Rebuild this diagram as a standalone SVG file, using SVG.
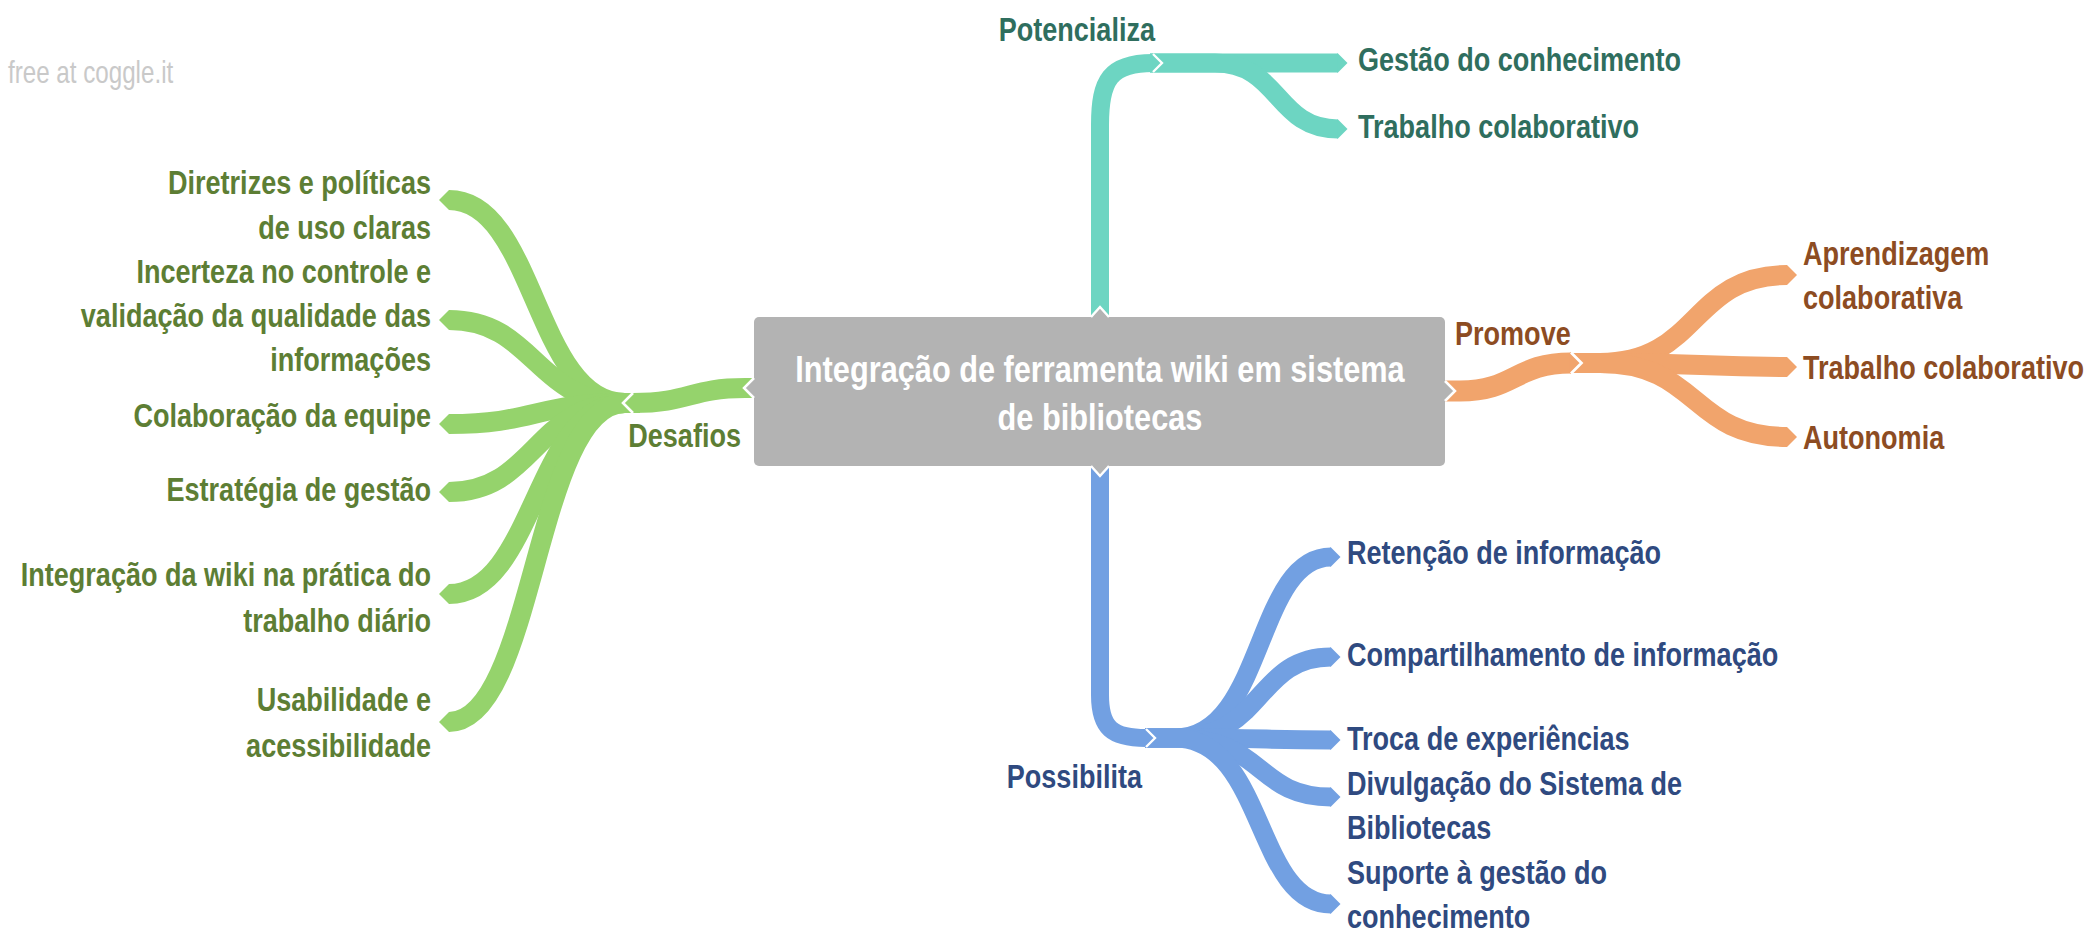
<svg xmlns="http://www.w3.org/2000/svg" width="2090" height="942" viewBox="0 0 2090 942">
<style>
.t{font-family:"Liberation Sans",Arial,sans-serif;font-weight:bold;font-size:33px}
.g{fill:#5d7e34}.te{fill:#2f6e5e}.o{fill:#8d4c22}.b{fill:#2f4a80}
.band{fill:none;stroke-linecap:butt;stroke-linejoin:round}
.bg{stroke:#95d36c}.bt{stroke:#6dd5c2}.bo{stroke:#f1a46c}.bb{stroke:#72a0e2}
.wm{font-family:"Liberation Sans",Arial,sans-serif;font-size:31px;fill:#c9c9c9}
</style>
<defs>
<marker id="mg" viewBox="-0.05 0 0.55 1" refX="0" refY="0.5" markerWidth="0.55" markerHeight="1" orient="auto" markerUnits="strokeWidth" overflow="visible"><path d="M-0.05,0 L0,0 L0.5,0.5 L0,1 L-0.05,1Z" fill="#95d36c"/></marker>
<marker id="mt" viewBox="-0.05 0 0.55 1" refX="0" refY="0.5" markerWidth="0.55" markerHeight="1" orient="auto" markerUnits="strokeWidth" overflow="visible"><path d="M-0.05,0 L0,0 L0.5,0.5 L0,1 L-0.05,1Z" fill="#6dd5c2"/></marker>
<marker id="mo" viewBox="-0.05 0 0.55 1" refX="0" refY="0.5" markerWidth="0.55" markerHeight="1" orient="auto" markerUnits="strokeWidth" overflow="visible"><path d="M-0.05,0 L0,0 L0.5,0.5 L0,1 L-0.05,1Z" fill="#f1a46c"/></marker>
<marker id="mb" viewBox="-0.05 0 0.55 1" refX="0" refY="0.5" markerWidth="0.55" markerHeight="1" orient="auto" markerUnits="strokeWidth" overflow="visible"><path d="M-0.05,0 L0,0 L0.5,0.5 L0,1 L-0.05,1Z" fill="#72a0e2"/></marker>
<marker id="jg" viewBox="-0.05 0 0.55 1" refX="0" refY="0.5" markerWidth="0.55" markerHeight="1" orient="auto" markerUnits="strokeWidth" overflow="visible"><path d="M-0.05,0 L0,0 L0.5,0.5 L0,1 L-0.05,1Z" fill="#95d36c"/><path d="M0,0 L0.5,0.5 L0,1" fill="none" stroke="#fff" stroke-width="0.13"/></marker>
<marker id="jt" viewBox="-0.05 0 0.55 1" refX="0" refY="0.5" markerWidth="0.55" markerHeight="1" orient="auto" markerUnits="strokeWidth" overflow="visible"><path d="M-0.05,0 L0,0 L0.5,0.5 L0,1 L-0.05,1Z" fill="#6dd5c2"/><path d="M0,0 L0.5,0.5 L0,1" fill="none" stroke="#fff" stroke-width="0.13"/></marker>
<marker id="jo" viewBox="-0.05 0 0.55 1" refX="0" refY="0.5" markerWidth="0.55" markerHeight="1" orient="auto" markerUnits="strokeWidth" overflow="visible"><path d="M-0.05,0 L0,0 L0.5,0.5 L0,1 L-0.05,1Z" fill="#f1a46c"/><path d="M0,0 L0.5,0.5 L0,1" fill="none" stroke="#fff" stroke-width="0.13"/></marker>
<marker id="jb" viewBox="-0.05 0 0.55 1" refX="0" refY="0.5" markerWidth="0.55" markerHeight="1" orient="auto" markerUnits="strokeWidth" overflow="visible"><path d="M-0.05,0 L0,0 L0.5,0.5 L0,1 L-0.05,1Z" fill="#72a0e2"/><path d="M0,0 L0.5,0.5 L0,1" fill="none" stroke="#fff" stroke-width="0.13"/></marker>
</defs>

<text class="wm" transform="translate(8,83) scale(0.78,1)">free at coggle.it</text>

<g id="connectors">
  <!-- green leaves -->
  <g class="band bg" stroke-width="20" marker-end="url(#mg)">
    <path d="M640,403 L625,403 C535,403 535,200 449,200"/>
    <path d="M640,403 L625,403 C535,403 535,320 449,320"/>
    <path d="M640,403 L625,403 C535,403 535,424 449,424"/>
    <path d="M640,403 L625,403 C535,403 535,492 449,492"/>
    <path d="M640,403 L625,403 C535,403 535,594 449,594"/>
    <path d="M640,403 L625,403 C535,403 535,722 449,722"/>
  </g>
  <!-- teal leaves -->
  <g class="band bt" stroke-width="19" marker-end="url(#mt)">
    <path d="M1150,63 L1338,63"/>
    <path d="M1150,63 L1215,63 C1280,63 1275,129 1338,129"/>
  </g>
  <!-- orange leaves -->
  <g class="band bo" stroke-width="20" marker-end="url(#mo)">
    <path d="M1570,363 L1600,363 C1700,363 1690,275 1787,275"/>
    <path d="M1570,363 L1600,363 C1700,363 1700,367 1787,367"/>
    <path d="M1570,363 L1600,363 C1700,363 1690,437 1787,437"/>
  </g>
  <!-- blue leaves -->
  <g class="band bb" stroke-width="19" marker-end="url(#mb)">
    <path d="M1145,738 L1175,738 C1265,738 1255,557 1331,557"/>
    <path d="M1145,738 L1175,738 C1265,738 1255,657 1331,657"/>
    <path d="M1145,738 L1175,738 C1265,738 1265,740 1331,740"/>
    <path d="M1145,738 L1175,738 C1265,738 1255,797 1331,797"/>
    <path d="M1145,738 L1175,738 C1265,738 1255,904 1331,904"/>
  </g>
  <!-- root to main branches -->
  <path class="band bg" stroke-width="20" marker-end="url(#jg)" d="M770,388 L745,388 C690,388 690,403 633,403"/>
  <path class="band bt" stroke-width="18" marker-end="url(#jt)" d="M1100,330 L1100,125 C1100,80 1110,63 1153,63"/>
  <path class="band bo" stroke-width="21" marker-end="url(#jo)" d="M1430,391 L1460,391 C1515,391 1515,363 1571,363"/>
  <path class="band bb" stroke-width="18" marker-end="url(#jb)" d="M1100,455 L1100,695 C1100,728 1112,738 1146,738"/>
</g>

<g id="root">
  <rect x="754" y="317" width="691" height="149" rx="5" fill="#b3b3b3"/>
  <polygon points="754,378 744,388 754,398" fill="#b3b3b3"/>
  <polyline points="754,378 744,388 754,398" fill="none" stroke="#fff" stroke-width="2.5"/>
  <polygon points="1445,381 1455,391 1445,401" fill="#b3b3b3"/>
  <polyline points="1445,381 1455,391 1445,401" fill="none" stroke="#fff" stroke-width="2.5"/>
  <polygon points="1091,317 1100,307 1109,317" fill="#b3b3b3"/>
  <polyline points="1091,317 1100,307 1109,317" fill="none" stroke="#fff" stroke-width="2.5"/>
  <polygon points="1091,466 1100,476 1109,466" fill="#b3b3b3"/>
  <polyline points="1091,466 1100,476 1109,466" fill="none" stroke="#fff" stroke-width="2.5"/>
  <text class="t" fill="#fff" text-anchor="middle" transform="translate(1100,382) scale(0.83,1)" style="font-size:37px"><tspan x="0" y="0">Integração de ferramenta wiki em sistema</tspan><tspan x="0" y="48">de bibliotecas</tspan></text>
</g>

<g id="desafios"><text class="t g" text-anchor="end" transform="translate(741,447) scale(0.82,1)">Desafios</text></g>
<g id="g1"><text class="t g" text-anchor="end" transform="translate(431,194) scale(0.82,1)"><tspan x="0" y="0">Diretrizes e políticas</tspan><tspan x="0" y="45">de uso claras</tspan></text></g>
<g id="g2"><text class="t g" text-anchor="end" transform="translate(431,283) scale(0.82,1)"><tspan x="0" y="0">Incerteza no controle e</tspan><tspan x="0" y="44">validação da qualidade das</tspan><tspan x="0" y="88">informações</tspan></text></g>
<g id="g3"><text class="t g" text-anchor="end" transform="translate(431,427) scale(0.82,1)">Colaboração da equipe</text></g>
<g id="g4"><text class="t g" text-anchor="end" transform="translate(431,501) scale(0.82,1)">Estratégia de gestão</text></g>
<g id="g5"><text class="t g" text-anchor="end" transform="translate(431,586) scale(0.82,1)"><tspan x="0" y="0">Integração da wiki na prática do</tspan><tspan x="0" y="46">trabalho diário</tspan></text></g>
<g id="g6"><text class="t g" text-anchor="end" transform="translate(431,711) scale(0.82,1)"><tspan x="0" y="0">Usabilidade e</tspan><tspan x="0" y="46">acessibilidade</tspan></text></g>

<g id="potencializa"><text class="t te" text-anchor="end" transform="translate(1155,41) scale(0.82,1)">Potencializa</text></g>
<g id="t1"><text class="t te" transform="translate(1358,71) scale(0.82,1)">Gestão do conhecimento</text></g>
<g id="t2"><text class="t te" transform="translate(1358,138) scale(0.82,1)">Trabalho colaborativo</text></g>

<g id="promove"><text class="t o" transform="translate(1455,345) scale(0.82,1)">Promove</text></g>
<g id="o1"><text class="t o" transform="translate(1803,265) scale(0.82,1)"><tspan x="0" y="0">Aprendizagem</tspan><tspan x="0" y="44">colaborativa</tspan></text></g>
<g id="o2"><text class="t o" transform="translate(1803,379) scale(0.82,1)">Trabalho colaborativo</text></g>
<g id="o3"><text class="t o" transform="translate(1803,449) scale(0.82,1)">Autonomia</text></g>

<g id="possibilita"><text class="t b" text-anchor="end" transform="translate(1142,788) scale(0.82,1)">Possibilita</text></g>
<g id="b1"><text class="t b" transform="translate(1347,564) scale(0.82,1)">Retenção de informação</text></g>
<g id="b2"><text class="t b" transform="translate(1347,666) scale(0.82,1)">Compartilhamento de informação</text></g>
<g id="b3"><text class="t b" transform="translate(1347,750) scale(0.82,1)">Troca de experiências</text></g>
<g id="b4"><text class="t b" transform="translate(1347,795) scale(0.82,1)"><tspan x="0" y="0">Divulgação do Sistema de</tspan><tspan x="0" y="44">Bibliotecas</tspan></text></g>
<g id="b5"><text class="t b" transform="translate(1347,884) scale(0.82,1)"><tspan x="0" y="0">Suporte à gestão do</tspan><tspan x="0" y="44">conhecimento</tspan></text></g>
</svg>
